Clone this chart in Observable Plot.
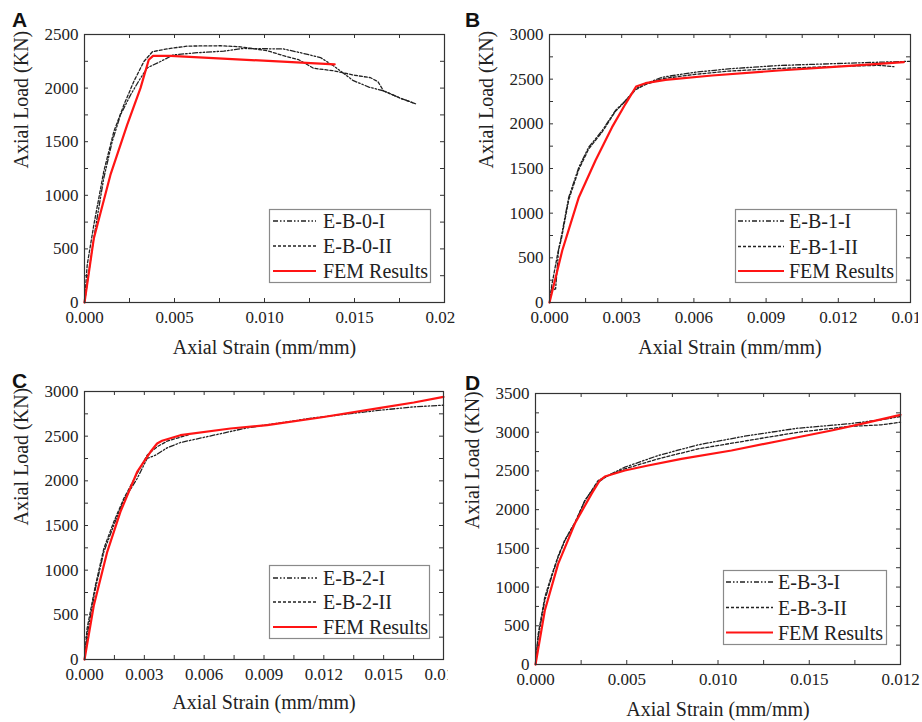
<!DOCTYPE html>
<html><head><meta charset="utf-8">
<script src="https://cdn.jsdelivr.net/npm/d3@7"></script>
<script src="https://cdn.jsdelivr.net/npm/@observablehq/plot@0.6"></script>
<style>
body{margin:0;background:#fff;}
#wrap{position:relative;width:922px;height:722px;background:#fff;overflow:hidden;}
.panel{position:absolute;}
.panel svg{overflow:hidden;display:block;font-family:'Liberation Serif','Times New Roman',serif !important;}
.panel svg text{font-family:'Liberation Serif','Times New Roman',serif !important;}
#overlay{position:absolute;left:0;top:0;pointer-events:none;}
</style></head><body><div id="wrap"></div>
<script>
// ---------- data: [strain (mm/mm), axial load (kN)] ----------
const A_I = [[0,0],[0.00019,227],[0.00043,507],[0.0007,787],[0.00107,1160],[0.00154,1502],[0.002,1750],[0.00256,1937],[0.00311,2093],[0.0035,2190],[0.00422,2248],[0.00494,2310],[0.00626,2330],[0.00774,2345],[0.00883,2370],[0.01017,2367],[0.01106,2365],[0.012,2330],[0.01311,2285],[0.01383,2208],[0.01494,2069],[0.0158,2010],[0.01661,1975],[0.01756,1905],[0.01839,1854]];
const A_II = [[0,0],[0.00015,350],[0.00052,725],[0.00107,1222],[0.00163,1595],[0.00219,1844],[0.00274,2062],[0.0033,2248],[0.00378,2340],[0.00459,2366],[0.00572,2392],[0.00756,2395],[0.00867,2385],[0.01017,2348],[0.01106,2302],[0.0119,2265],[0.01272,2185],[0.01383,2162],[0.015,2120],[0.01589,2097],[0.0163,2060],[0.01661,1975],[0.01756,1905],[0.01839,1854]];
const A_FEM = [[0,0],[0.00052,600],[0.00144,1190],[0.00237,1657],[0.00311,2000],[0.00357,2264],[0.00381,2301],[0.00478,2300],[0.0139,2222]];

const B_I = [[0,0],[0.0001,170],[0.00025,140],[0.00038,600],[0.00046,694],[0.0008,1179],[0.00122,1515],[0.00163,1739],[0.00219,1925],[0.00274,2149],[0.00316,2261],[0.00357,2392],[0.00399,2448],[0.00468,2522],[0.00607,2578],[0.00745,2616],[0.00953,2653],[0.01161,2672],[0.01368,2690],[0.015,2700]];
const B_II = [[0,0],[0.0001,200],[0.00035,560],[0.0005,720],[0.0008,1150],[0.00122,1490],[0.00163,1720],[0.00219,1910],[0.00274,2140],[0.00316,2255],[0.00357,2380],[0.00399,2440],[0.00468,2505],[0.00607,2555],[0.00745,2590],[0.00953,2620],[0.01161,2640],[0.01368,2655],[0.01431,2640]];
const B_FEM = [[0,0],[0.00053,582],[0.00122,1179],[0.00191,1590],[0.0026,1963],[0.00316,2224],[0.0036,2418],[0.00399,2455],[0.00482,2493],[0.00676,2541],[0.00953,2597],[0.0123,2646],[0.01472,2690]];

const C_I = [[0,0],[0.00013,272],[0.00055,795],[0.00097,1205],[0.00147,1504],[0.00197,1784],[0.00264,2026],[0.00314,2250],[0.00356,2287],[0.00414,2369],[0.00481,2429],[0.00648,2511],[0.00815,2593],[0.01149,2705],[0.01484,2791],[0.01651,2828],[0.018,2847]];
const C_II = [[0,0],[0.00013,347],[0.00055,832],[0.00097,1242],[0.00147,1541],[0.00197,1802],[0.00264,2082],[0.00314,2287],[0.00364,2381],[0.00414,2444],[0.0052,2515]];
const C_FEM = [[0,0],[0.00047,608],[0.00114,1205],[0.0018,1653],[0.00264,2101],[0.00331,2325],[0.00364,2418],[0.00389,2448],[0.00481,2511],[0.00732,2586],[0.00916,2623],[0.01183,2709],[0.01484,2817],[0.01651,2877],[0.018,2940]];

const D_I = [[0,0],[0.00015,353],[0.00051,826],[0.00088,1128],[0.00124,1386],[0.00161,1601],[0.00215,1817],[0.0027,2118],[0.00343,2355],[0.00398,2441],[0.00489,2548],[0.00672,2699],[0.00891,2837],[0.01165,2957],[0.01439,3052],[0.01713,3108],[0.01895,3160],[0.02,3203]];
const D_II = [[0,0],[0.00015,396],[0.00051,870],[0.00088,1150],[0.00124,1400],[0.00161,1610],[0.00215,1830],[0.0027,2110],[0.00343,2376],[0.00398,2441],[0.00489,2527],[0.00672,2656],[0.00891,2785],[0.01165,2893],[0.01439,3000],[0.01713,3074],[0.01895,3095],[0.02,3130]];
const D_FEM = [[0,0],[0.00051,697],[0.00124,1300],[0.00215,1817],[0.00307,2204],[0.00352,2376],[0.0038,2428],[0.00489,2505],[0.00617,2570],[0.008,2656],[0.01074,2764],[0.01348,2893],[0.01622,3022],[0.01804,3117],[0.02,3224]];

// ---------- ticks ----------
const xTicksA = [0,0.005,0.01,0.015,0.02];
const xLabelsA = ["0.000","0.005","0.010","0.015","0.020"];
const xMinorA = [0.0025,0.0075,0.0125,0.0175];
const xTicksB = [0,0.003,0.006,0.009,0.012,0.015];
const xLabelsB = ["0.000","0.003","0.006","0.009","0.012","0.015"];
const xMinorB = [0.0015,0.0045,0.0075,0.0105,0.0135];
const xTicksC = [0,0.003,0.006,0.009,0.012,0.015,0.018];
const xLabelsC = ["0.000","0.003","0.006","0.009","0.012","0.015","0.018"];
const xMinorC = [0.0015,0.0045,0.0075,0.0105,0.0135,0.0165];
const xTicksD = [0,0.005,0.01,0.015,0.02];
const xLabelsD = ["0.000","0.005","0.010","0.015","0.012"];
const xMinorD = [0.0025,0.0075,0.0125,0.0175];
const yTicksA = [0,500,1000,1500,2000,2500];
const yTicks3000 = [0,500,1000,1500,2000,2500,3000];
const yTicksD = [0,500,1000,1500,2000,2500,3000,3500];

const seriesNamesA = ["E-B-0-I","E-B-0-II","FEM Results"];
const seriesNamesB = ["E-B-1-I","E-B-1-II","FEM Results"];
const seriesNamesC = ["E-B-2-I","E-B-2-II","FEM Results"];
const seriesNamesD = ["E-B-3-I","E-B-3-II","FEM Results"];

const xTitle = "Axial Strain (mm/mm)";
const yTitle = "Axial Load (KN)";

// ---------- styling ----------
const serif = "Liberation Serif";
const ink = "#222";
const red = "#ff1414";
const dashDot = "5,2,1.5,2,1.5,2";
const dotted = "3,2";

const panels = [
  {letter:"A", left:0, top:0, width:455, height:361, m:[34,11,59,84], xDomain:[0,0.02], yDomain:[0,2500],
   xTicks:xTicksA, xLabels:xLabelsA, xMinor:xMinorA, yTicks:yTicksA, data:[A_I,A_II,A_FEM], names:seriesNamesA,
   xTitleDy:45, letterPos:[12,27], legend:{x:269,y:209,w:161,h:73,rows:[221,246,271],l0:273,l1:316,tx:323}},
  {letter:"B", left:461, top:0, width:457, height:361, m:[34,8,59,88], xDomain:[0,0.015], yDomain:[0,3000],
   xTicks:xTicksB, xLabels:xLabelsB, xMinor:xMinorB, yTicks:yTicks3000, data:[B_I,B_II,B_FEM], names:seriesNamesB,
   xTitleDy:45, letterPos:[465,27], legend:{x:735,y:209,w:161,h:73,rows:[221,246.5,271],l0:738,l1:784,tx:789}},
  {letter:"C", left:0, top:361, width:448, height:361, m:[30,5,63,84], xDomain:[0,0.018], yDomain:[0,3000],
   xTicks:xTicksC, xLabels:xLabelsC, xMinor:xMinorC, yTicks:yTicks3000, data:[C_I,C_II,C_FEM], names:seriesNamesC,
   xTitleDy:43, letterPos:[12,388], legend:{x:269,y:565,w:160,h:73,rows:[578,602,627],l0:273,l1:317,tx:323}},
  {letter:"D", left:461, top:361, width:461, height:361, m:[32,22,58,74], xDomain:[0,0.02], yDomain:[0,3500],
   xTicks:xTicksD, xLabels:xLabelsD, xMinor:xMinorD, yTicks:yTicksD, data:[D_I,D_II,D_FEM], names:seriesNamesD,
   xTitleDy:45, letterPos:[465,390], legend:{x:723,y:570,w:163,h:74,rows:[582,607.5,632.5],l0:726,l1:773,tx:778}}
];

const wrap = document.getElementById("wrap");
const styles = [
  {stroke: ink, strokeWidth: 1.3, strokeDasharray: dashDot},
  {stroke: ink, strokeWidth: 1.3, strokeDasharray: dotted},
  {stroke: red, strokeWidth: 2.2, strokeDasharray: null}
];

for (const p of panels) {
  const [mt, mr, mb, ml] = p.m;
  const innerW = p.width - ml - mr, innerH = p.height - mt - mb;
  const step = p.yTicks[1] - p.yTicks[0];
  const yMinor = p.yTicks.slice(0, -1).map(v => v + step / 2);
  const xAll = p.xTicks.concat(p.xMinor);
  const yAll = p.yTicks.concat(yMinor);
  const labelMap = new Map(p.xTicks.map((v, i) => [v, p.xLabels[i]]));
  const tickLen = 4;
  const plot = Plot.plot({
    width: p.width, height: p.height,
    marginTop: mt, marginRight: mr, marginBottom: mb, marginLeft: ml,
    style: {fontFamily: serif, fontSize: "17px", color: ink, background: "#fff", overflow: "hidden"},
    x: {domain: p.xDomain, type: "linear"},
    y: {domain: p.yDomain, type: "linear"},
    marks: [
      ...p.data.map((d, i) => Plot.line(d, {x: v => v[0], y: v => v[1], ...styles[i], strokeLinejoin: "round"})),
      Plot.frame({stroke: "#333", strokeWidth: 1.2}),
      Plot.ruleX(xAll, {insetTop: innerH - tickLen, stroke: "#333", strokeWidth: 1}),
      Plot.ruleX(xAll, {insetBottom: innerH - tickLen, stroke: "#333", strokeWidth: 1}),
      Plot.ruleY(yAll, {insetRight: innerW - tickLen, stroke: "#333", strokeWidth: 1}),
      Plot.ruleY(yAll, {insetLeft: innerW - tickLen, stroke: "#333", strokeWidth: 1}),
      Plot.axisX(p.xTicks, {tickSize: 0, tickPadding: 8, tickFormat: d => labelMap.get(d), label: null, fontSize: 17, fontFamily: serif, fill: ink}),
      Plot.axisY(p.yTicks, {tickSize: 0, tickPadding: 6, tickFormat: d => String(d), label: null, fontSize: 17, fontFamily: serif, fill: ink}),
      Plot.text([xTitle], {text: d => d, frameAnchor: "bottom", dy: p.xTitleDy, lineAnchor: "middle", fontSize: 20, fontFamily: serif, fill: ink}),
      Plot.text([yTitle], {text: d => d, frameAnchor: "left", dx: -63, rotate: -90, lineAnchor: "middle", fontSize: 20, fontFamily: serif, fill: ink})
    ]
  });
  const div = document.createElement("div");
  div.className = "panel";
  div.style.left = p.left + "px";
  div.style.top = p.top + "px";
  div.style.width = p.width + "px";
  div.style.height = p.height + "px";
  div.appendChild(plot);
  wrap.appendChild(div);
}

// ---------- overlay: panel letters and legends ----------
const NS = "http://www.w3.org/2000/svg";
const ov = document.createElementNS(NS, "svg");
ov.setAttribute("id", "overlay");
ov.setAttribute("width", 922);
ov.setAttribute("height", 722);
function el(tag, attrs, text) {
  const e = document.createElementNS(NS, tag);
  for (const k in attrs) e.setAttribute(k, attrs[k]);
  if (text != null) e.textContent = text;
  ov.appendChild(e);
  return e;
}
for (const p of panels) {
  el("text", {x: p.letterPos[0], y: p.letterPos[1], "font-family": "Liberation Sans, Arial, sans-serif",
    "font-weight": "bold", "font-size": 21, fill: "#111"}, p.letter);
  const L = p.legend;
  el("rect", {x: L.x + 0.5, y: L.y + 0.5, width: L.w, height: L.h, fill: "#fff", stroke: "#8a8a8a", "stroke-width": 1.2});
  p.names.forEach((name, i) => {
    const s = styles[i];
    const ln = {x1: L.l0, x2: L.l1, y1: L.rows[i], y2: L.rows[i], stroke: s.stroke, "stroke-width": s.strokeWidth};
    if (s.strokeDasharray) ln["stroke-dasharray"] = s.strokeDasharray;
    el("line", ln);
    el("text", {x: L.tx, y: L.rows[i], "dominant-baseline": "central", "font-family": "Liberation Serif, serif", "font-size": 20, fill: ink}, name);
  });
}
wrap.appendChild(ov);
</script>
</body></html>
